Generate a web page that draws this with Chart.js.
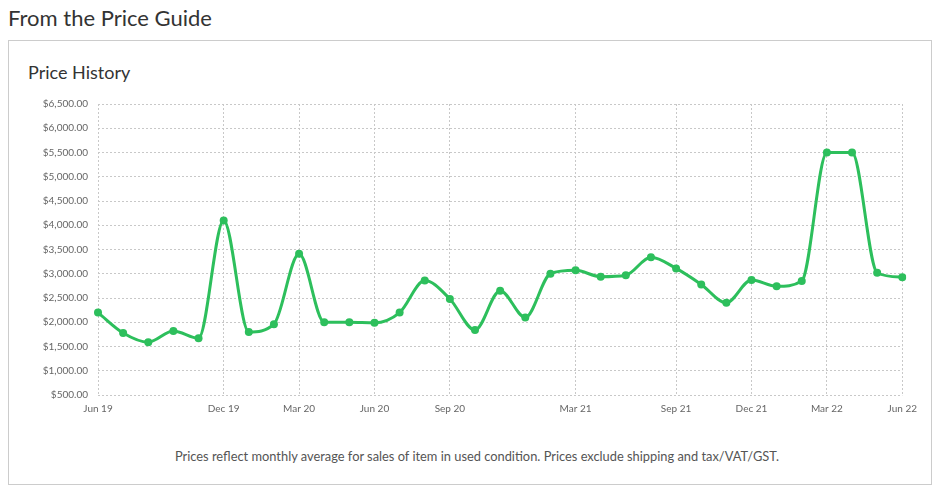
<!DOCTYPE html>
<html>
<head>
<meta charset="utf-8">
<script src="https://cdn.jsdelivr.net/npm/chart.js@4/dist/chart.umd.min.js"></script>
<style>
  body { margin: 0; background: #fff; font-family: Lato, "Open Sans", sans-serif; color: #333; }
  #title { position: absolute; left: 8px; top: 4px; margin: 0; font-size: 22px; font-weight: 400; color: #333; }
  #box { position: absolute; left: 8px; top: 40px; width: 922px; height: 443px; border: 1px solid #ccc; }
  #sub { position: absolute; left: 28px; top: 61px; margin: 0; font-size: 18px; font-weight: 400; color: #333; }
  #wrap { position: absolute; left: 20px; top: 88px; width: 905px; height: 335px; }
  #note { position: absolute; left: 15px; width: 924px; top: 448px; margin: 0; text-align: center; font-size: 12.85px; color: #555; }
</style>
</head>
<body>
<h2 id="title">From the Price Guide</h2>
<div id="box"></div>
<h3 id="sub">Price History</h3>
<div id="wrap"><canvas id="priceChart"></canvas></div>
<p id="note">Prices reflect monthly average for sales of item in used condition. Prices exclude shipping and tax/VAT/GST.</p>
<script>
// Month labels; only the ones shown on the axis are named
const monthLabels = [
  'Jun 19', '', '', '', '', 'Dec 19', '', '', 'Mar 20', '', '', 'Jun 20',
  '', '', 'Sep 20', '', '', '', '', 'Mar 21', '', '', '', 'Sep 21',
  '', '', 'Dec 21', '', '', 'Mar 22', '', '', 'Jun 22'
];

// Monthly average price (USD)
const avgPrices = [
  2200, 1780, 1590, 1820, 1670, 4100, 1800, 1960, 3410, 2000, 2000, 1990,
  2200, 2860, 2480, 1840, 2650, 2100, 3000, 3070, 2940, 2970, 3340, 3110,
  2780, 2400, 2870, 2740, 2850, 5500, 5500, 3020, 2930
];

const yMin = 500;
const yMax = 6500;
const yStep = 500;

const lineColor = '#2dbf5c';
const gridColor = '#c8c8c8';

function formatPrice(v) {
  return '$' + v.toLocaleString('en-US', {minimumFractionDigits: 2, maximumFractionDigits: 2});
}

const ctx = document.getElementById('priceChart');

new Chart(ctx, {
  type: 'line',
  data: {
    labels: monthLabels,
    datasets: [{
      label: 'Price',
      data: avgPrices,
      borderColor: lineColor,
      backgroundColor: lineColor,
      borderWidth: 3,
      pointRadius: 4,
      pointBorderWidth: 0,
      cubicInterpolationMode: 'monotone',
      fill: false
    }]
  },
  options: {
    responsive: true,
    maintainAspectRatio: false,
    animation: false,
    layout: {padding: {top: 3, right: 0, bottom: 0, left: 0}},
    plugins: {
      legend: {display: false},
      tooltip: {enabled: false}
    },
    scales: {
      x: {
        offset: false,
        border: {display: false, dash: [2, 2]},
        grid: {
          drawTicks: false,
          // vertical lines only at the labelled months
          color: c => (c.tick && c.tick.label !== '') ? gridColor : 'rgba(0,0,0,0)'
        },
        ticks: {
          autoSkip: false,
          maxRotation: 0,
          padding: 8,
          color: '#666',
          font: {family: 'Lato', size: 10}
        }
      },
      y: {
        min: yMin,
        max: yMax,
        border: {display: false, dash: [2, 2]},
        grid: {drawTicks: false, color: gridColor},
        ticks: {
          stepSize: yStep,
          padding: 10,
          color: '#666',
          font: {family: 'Lato', size: 10},
          callback: v => formatPrice(v)
        },
        afterFit: axis => { axis.width = 78; }
      }
    }
  }
});
</script>
</body>
</html>
